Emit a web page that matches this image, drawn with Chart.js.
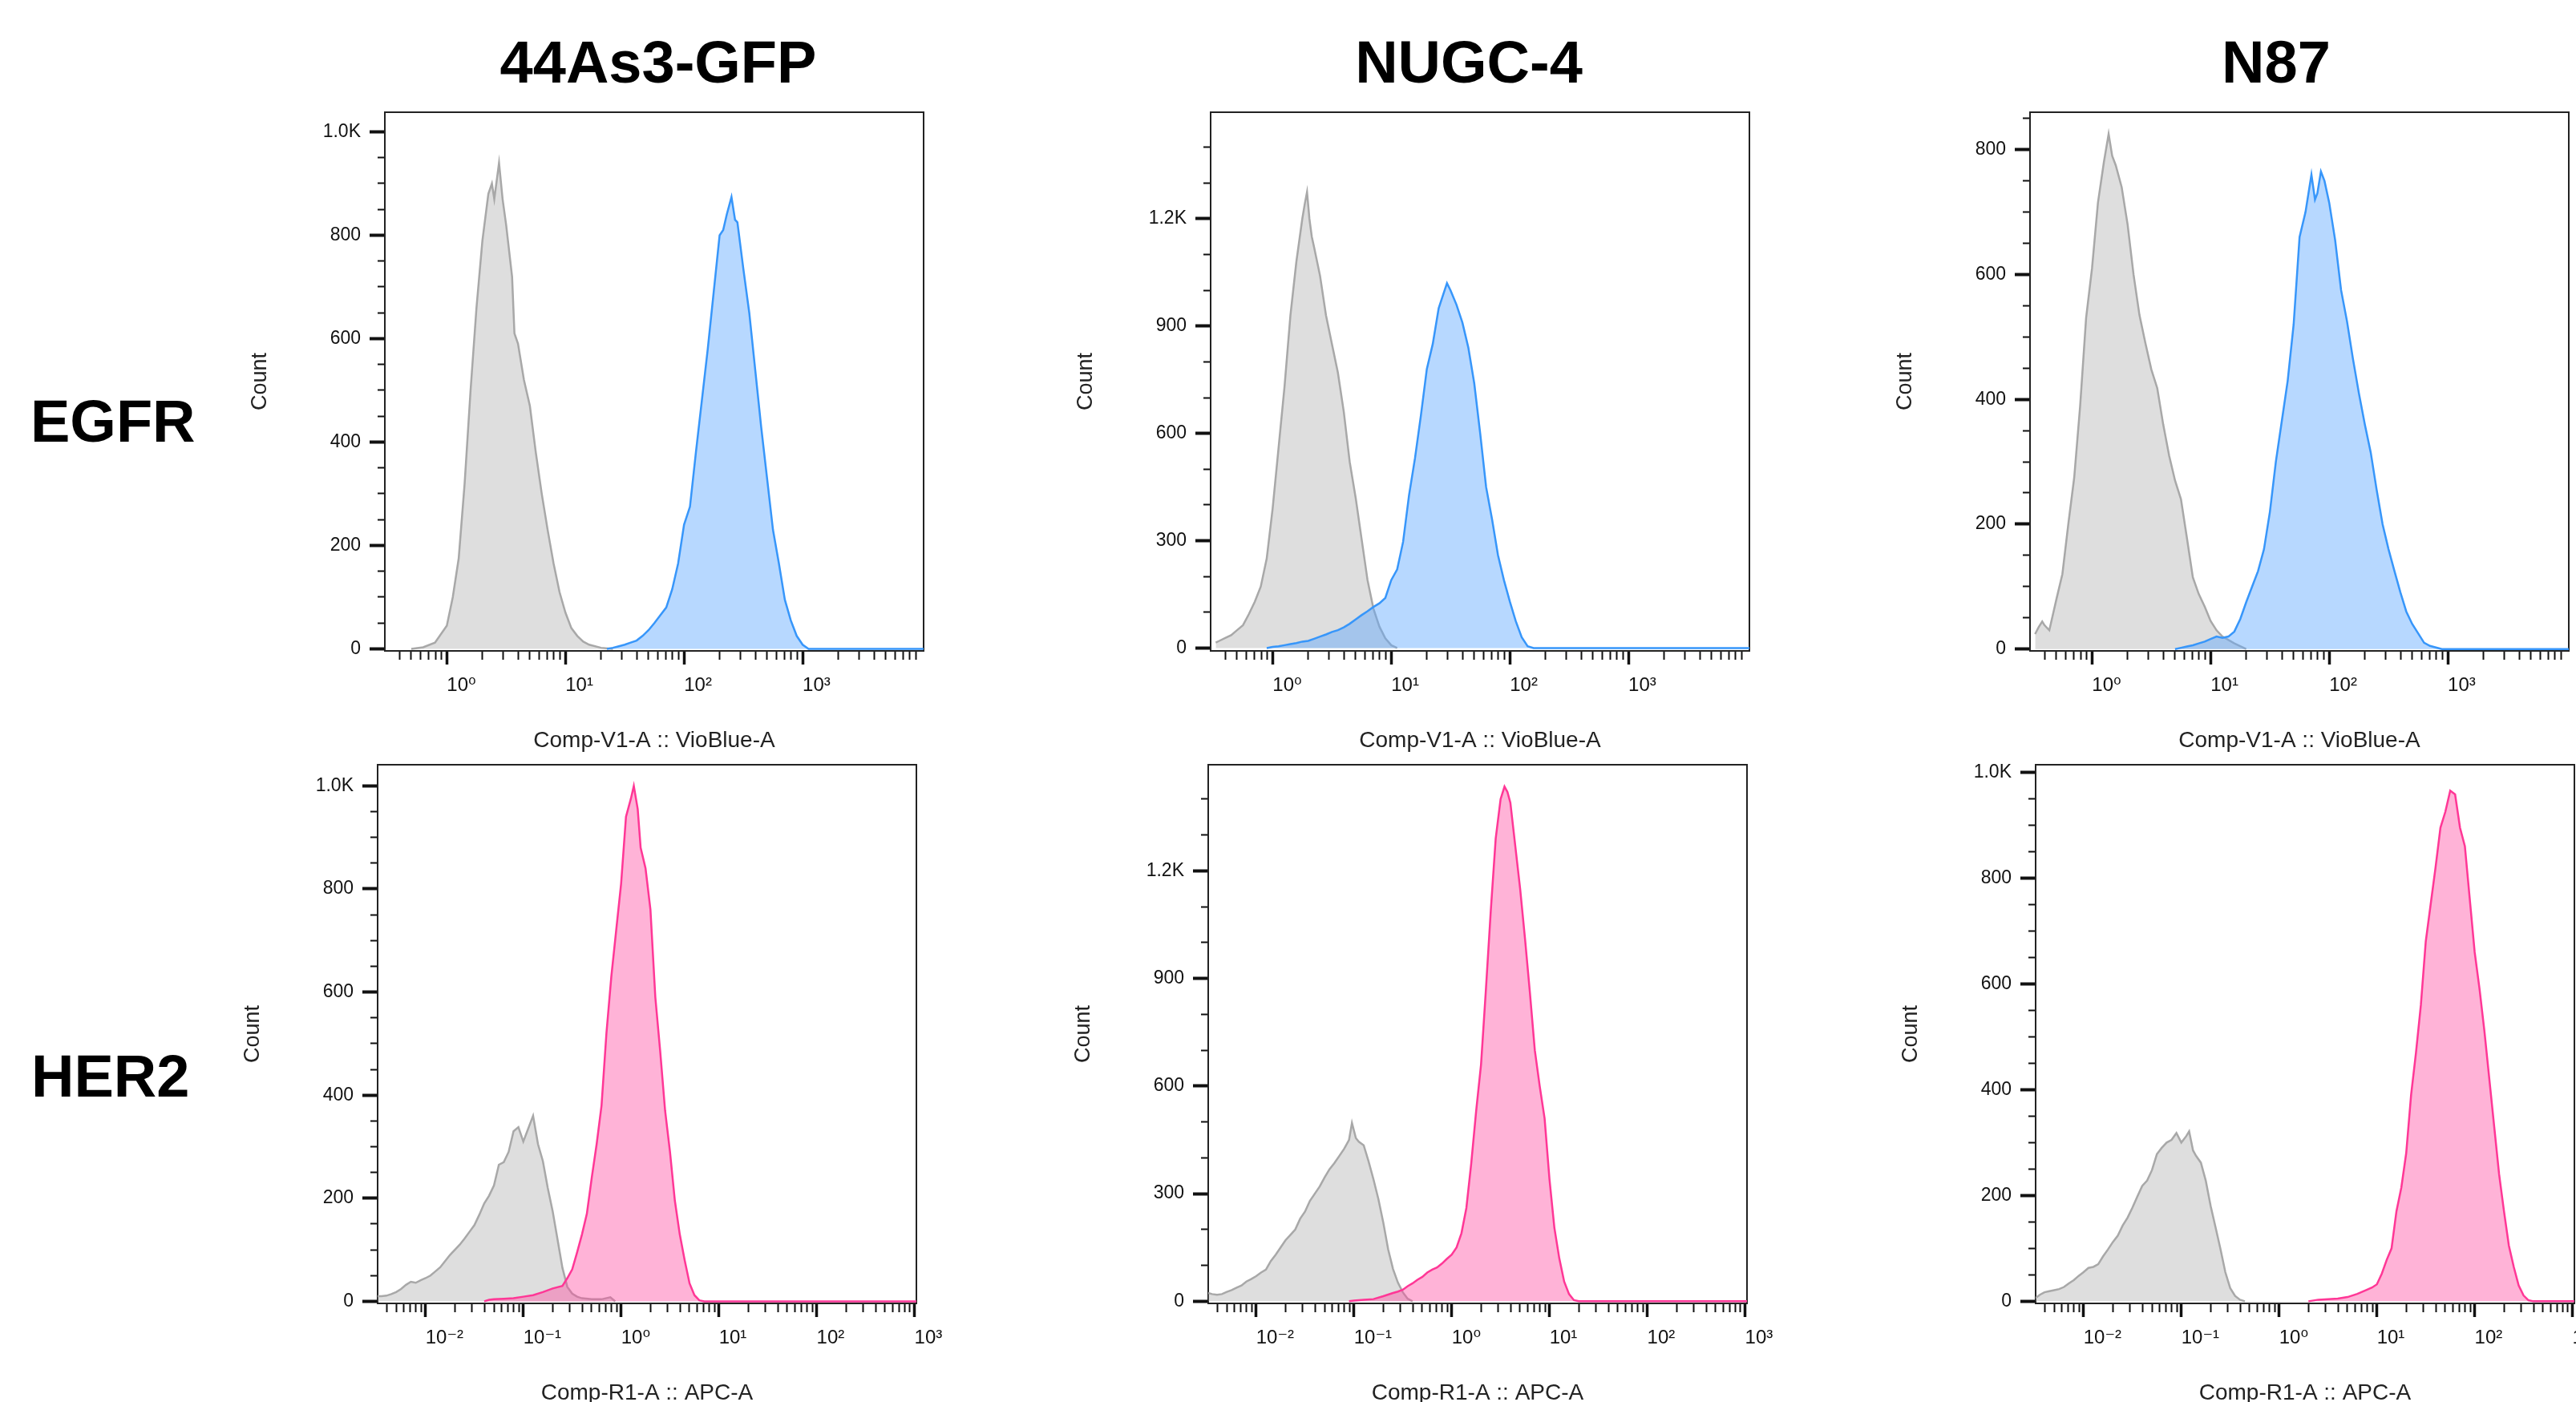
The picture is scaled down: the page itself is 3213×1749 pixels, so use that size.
<!DOCTYPE html>
<html><head><meta charset="utf-8">
<script src="https://cdn.jsdelivr.net/npm/chart.js@4/dist/chart.umd.min.js"></script>
<style>
html,body{margin:0;padding:0;background:#fff;width:3213px;height:1749px;overflow:hidden;position:relative;font-family:"Liberation Sans",Arial,sans-serif;}
.t{position:absolute;font-weight:bold;font-size:74px;line-height:74px;color:#000;white-space:nowrap;}
canvas{position:absolute;}
</style></head><body>
<div class="t" style="left:821px;top:41px;transform:translateX(-50%)">44As3-GFP</div>
<div class="t" style="left:1832px;top:41px;transform:translateX(-50%)">NUGC-4</div>
<div class="t" style="left:2839px;top:41px;transform:translateX(-50%)">N87</div>
<div class="t" style="left:38px;top:489px;">EGFR</div>
<div class="t" style="left:39px;top:1306px;">HER2</div>
<script>
// ---------- DATA (x in log10 units of fluorescence, y = count) ----------
const columns = ['44As3-GFP', 'NUGC-4', 'N87'];
const rows = ['EGFR', 'HER2'];
const xTitleEGFR = 'Comp-V1-A :: VioBlue-A';
const xTitleHER2 = 'Comp-R1-A :: APC-A';
const yTitle = 'Count';

// EGFR / 44As3-GFP
const egfr44CtrlLog = [-0.30,-0.20,-0.10,0.00,0.05,0.10,0.15,0.20,0.25,0.30,0.35,0.38,0.40,0.42,0.44,0.47,0.50,0.55,0.57,0.60,0.65,0.70,0.75,0.80,0.85,0.90,0.95,1.00,1.05,1.10,1.15,1.20,1.30,1.40];
const egfr44CtrlCount = [0,3,12,45,100,175,320,500,660,790,880,900,870,905,940,870,820,720,610,590,520,470,380,300,230,165,110,70,40,25,14,8,2,0];
const egfr44StainLog = [1.35,1.40,1.45,1.50,1.55,1.60,1.65,1.70,1.75,1.80,1.85,1.90,1.95,2.00,2.05,2.10,2.15,2.20,2.25,2.30,2.33,2.36,2.40,2.43,2.45,2.50,2.55,2.60,2.65,2.70,2.75,2.80,2.85,2.90,2.95,3.00,3.05,4.02];
const egfr44StainCount = [0,2,5,8,12,16,25,36,50,65,80,115,165,240,275,380,480,580,690,800,810,840,874,830,825,735,650,540,430,330,230,165,95,55,25,8,0,0];

// EGFR / NUGC-4
const egfrNugcCtrlLog = [-0.48,-0.45,-0.40,-0.35,-0.30,-0.25,-0.20,-0.15,-0.10,-0.05,0.00,0.05,0.10,0.15,0.20,0.25,0.27,0.29,0.31,0.33,0.35,0.40,0.45,0.50,0.55,0.60,0.65,0.70,0.75,0.80,0.85,0.90,0.95,1.00,1.05];
const egfrNugcCtrlCount = [15,20,28,36,50,64,95,130,172,250,390,560,730,930,1080,1200,1240,1275,1200,1150,1120,1040,930,850,770,660,520,420,305,190,110,60,27,8,0];
const egfrNugcStainLog = [-0.05,0.00,0.05,0.10,0.15,0.20,0.25,0.30,0.35,0.40,0.45,0.50,0.55,0.60,0.65,0.70,0.75,0.80,0.85,0.90,0.95,1.00,1.05,1.10,1.15,1.20,1.25,1.30,1.35,1.40,1.45,1.47,1.50,1.55,1.60,1.65,1.70,1.75,1.80,1.85,1.90,1.95,2.00,2.05,2.10,2.15,2.20,4.02];
const egfrNugcStainCount = [0,3,5,8,11,14,18,20,26,32,38,45,50,58,68,80,92,103,115,125,140,190,220,297,427,530,650,780,850,950,1000,1020,1000,960,910,840,740,600,450,360,260,190,130,75,30,5,0,0];

// EGFR / N87
const egfrN87CtrlLog = [-0.48,-0.45,-0.42,-0.40,-0.36,-0.33,-0.30,-0.25,-0.20,-0.15,-0.10,-0.05,0.00,0.05,0.10,0.14,0.17,0.20,0.25,0.30,0.35,0.40,0.45,0.50,0.55,0.60,0.65,0.70,0.75,0.80,0.85,0.90,0.95,1.00,1.05,1.10,1.20,1.30];
const egfrN87CtrlCount = [24,35,44,38,30,55,80,120,200,275,390,530,610,715,780,825,790,775,740,680,600,535,490,448,418,360,310,270,240,178,115,88,68,45,30,20,9,0];
const egfrN87StainLog = [0.70,0.75,0.80,0.85,0.90,0.95,1.00,1.05,1.10,1.15,1.20,1.25,1.30,1.35,1.40,1.45,1.50,1.55,1.60,1.65,1.70,1.75,1.80,1.85,1.88,1.90,1.93,1.96,2.00,2.05,2.10,2.15,2.20,2.25,2.30,2.35,2.40,2.45,2.50,2.55,2.60,2.65,2.70,2.75,2.80,2.85,2.95,4.03];
const egfrN87StainCount = [0,2,4,6,9,12,16,20,18,20,28,48,75,100,125,160,220,300,365,430,520,660,700,760,720,730,765,750,715,655,575,525,465,410,360,315,255,200,160,125,91,60,40,25,10,5,0,0];

// HER2 / 44As3-GFP
const her244CtrlLog = [-2.49,-2.45,-2.40,-2.35,-2.30,-2.25,-2.20,-2.15,-2.10,-2.05,-2.00,-1.95,-1.90,-1.85,-1.80,-1.75,-1.70,-1.65,-1.60,-1.55,-1.50,-1.45,-1.40,-1.35,-1.30,-1.25,-1.20,-1.15,-1.10,-1.05,-1.00,-0.95,-0.90,-0.85,-0.80,-0.75,-0.70,-0.65,-0.60,-0.55,-0.50,-0.45,-0.40,-0.30,-0.20,-0.11,-0.06];
const her244CtrlCount = [10,10,11,14,18,24,32,38,36,41,45,50,58,66,78,90,100,110,122,135,148,168,190,205,225,265,270,290,330,338,310,335,360,305,272,220,175,120,65,28,15,9,6,4,4,8,0];
const her244StainLog = [-1.40,-1.35,-1.30,-1.20,-1.10,-1.00,-0.90,-0.80,-0.70,-0.60,-0.55,-0.50,-0.45,-0.40,-0.35,-0.30,-0.25,-0.20,-0.15,-0.10,-0.05,0.00,0.05,0.10,0.13,0.17,0.20,0.25,0.30,0.35,0.40,0.45,0.50,0.55,0.60,0.65,0.70,0.75,0.80,0.85,3.03];
const her244StainCount = [0,3,4,5,6,9,12,18,25,30,45,62,95,130,170,240,305,380,520,630,720,810,940,975,1000,955,880,840,760,590,485,370,290,195,130,80,35,12,2,0,0];

// HER2 / NUGC-4
const her2NugcCtrlLog = [-2.49,-2.45,-2.40,-2.35,-2.30,-2.25,-2.20,-2.15,-2.10,-2.05,-2.00,-1.95,-1.90,-1.85,-1.80,-1.75,-1.70,-1.65,-1.60,-1.55,-1.50,-1.45,-1.40,-1.35,-1.30,-1.25,-1.20,-1.15,-1.10,-1.05,-1.02,-0.98,-0.95,-0.90,-0.85,-0.80,-0.75,-0.70,-0.65,-0.60,-0.55,-0.50,-0.45,-0.40];
const her2NugcCtrlCount = [23,20,18,20,26,31,38,44,55,62,70,80,88,112,130,150,170,185,200,230,250,280,300,320,345,368,385,405,425,450,497,455,445,435,390,340,285,220,145,90,52,25,7,0];
const her2NugcStainLog = [-1.05,-1.00,-0.90,-0.80,-0.70,-0.60,-0.55,-0.50,-0.45,-0.40,-0.35,-0.30,-0.25,-0.20,-0.15,-0.10,-0.05,0.00,0.05,0.10,0.15,0.20,0.25,0.30,0.35,0.40,0.45,0.50,0.54,0.57,0.60,0.65,0.70,0.75,0.80,0.85,0.90,0.95,1.00,1.05,1.10,1.15,1.20,1.25,1.30,3.03];
const her2NugcStainCount = [0,2,4,6,14,23,27,32,42,50,60,68,80,88,94,105,118,130,150,190,260,385,530,660,870,1090,1290,1400,1435,1420,1390,1270,1150,1010,860,700,600,510,340,205,120,55,20,3,0,0];

// HER2 / N87
const her2N87CtrlLog = [-2.49,-2.45,-2.40,-2.35,-2.30,-2.25,-2.20,-2.15,-2.10,-2.05,-2.00,-1.95,-1.90,-1.85,-1.80,-1.75,-1.70,-1.65,-1.60,-1.55,-1.50,-1.45,-1.40,-1.35,-1.30,-1.25,-1.20,-1.15,-1.10,-1.05,-1.00,-0.95,-0.92,-0.88,-0.85,-0.80,-0.75,-0.70,-0.65,-0.60,-0.55,-0.50,-0.45,-0.40,-0.35];
const her2N87CtrlCount = [6,12,17,19,21,23,27,34,40,48,55,63,65,70,85,98,112,124,143,158,177,198,218,228,248,278,290,300,305,318,300,312,321,285,275,262,228,180,140,99,55,25,10,3,0];
const her2N87StainLog = [0.30,0.40,0.50,0.60,0.70,0.80,0.90,0.95,1.00,1.05,1.10,1.15,1.20,1.25,1.30,1.35,1.40,1.45,1.50,1.55,1.60,1.65,1.70,1.75,1.80,1.85,1.90,1.95,2.00,2.05,2.10,2.15,2.20,2.25,2.30,2.35,2.40,2.45,2.50,2.55,2.60,3.03];
const her2N87StainCount = [0,3,4,5,8,14,22,26,32,52,78,100,170,215,280,390,470,560,680,750,820,895,925,965,958,895,860,760,660,590,510,420,330,240,170,105,65,30,11,2,0,0];

// Axis ranges and tick steps per panel (log10 x range, y range, minor/labelled tick steps)
const xRangeEGFR = [-0.48, 4.02];
const xRangeHER2 = [-2.49, 3.02];
const yRanges = [[-4,1038],[-8,1498],[-3,860],[-4,1041],[-6,1496],[-4,1014]];
const yTickSteps = [[50,200],[100,300],[50,200],[50,200],[100,300],[50,200]];

// ---------- RENDERING ----------
const FONT = '"Liberation Sans", Arial, "DejaVu Sans", sans-serif';
const SUP = {'-':'\u207B','0':'\u2070','1':'\u00B9','2':'\u00B2','3':'\u00B3','4':'\u2074'};
const decadeLabel = v => '10' + String(Math.round(Math.log10(v))).split('').map(c => SUP[c]).join('');
const isDecade = v => { const l = Math.log10(v); return Math.abs(l - Math.round(l)) < 1e-6; };

const BLUE = {line:'rgb(55,150,250)', fill:'rgba(95,168,255,0.45)'};
const PINK = {line:'rgb(255,55,150)', fill:'rgba(255,75,160,0.42)'};

const panels = [
  {left:480, top:140, ctrl:[egfr44CtrlLog,egfr44CtrlCount], stain:[egfr44StainLog,egfr44StainCount], col:BLUE, xr:xRangeEGFR, xTickEnd:3.99, xTitle:xTitleEGFR},
  {left:1510, top:140, ctrl:[egfrNugcCtrlLog,egfrNugcCtrlCount], stain:[egfrNugcStainLog,egfrNugcStainCount], col:BLUE, xr:xRangeEGFR, xTickEnd:3.99, xTitle:xTitleEGFR},
  {left:2532, top:140, ctrl:[egfrN87CtrlLog,egfrN87CtrlCount], stain:[egfrN87StainLog,egfrN87StainCount], col:BLUE, xr:xRangeEGFR, xTickEnd:3.99, xTitle:xTitleEGFR},
  {left:471, top:954, ctrl:[her244CtrlLog,her244CtrlCount], stain:[her244StainLog,her244StainCount], col:PINK, xr:xRangeHER2, xTickEnd:3.01, xTitle:xTitleHER2},
  {left:1507, top:954, ctrl:[her2NugcCtrlLog,her2NugcCtrlCount], stain:[her2NugcStainLog,her2NugcStainCount], col:PINK, xr:xRangeHER2, xTickEnd:3.01, xTitle:xTitleHER2},
  {left:2539, top:954, ctrl:[her2N87CtrlLog,her2N87CtrlCount], stain:[her2N87StainLog,her2N87StainCount], col:PINK, xr:xRangeHER2, xTickEnd:3.01, xTitle:xTitleHER2}
];

const S = 672, padL = 172, padT = 14, padR = 60, padB = 129;
const toPts = (lx, ly) => lx.map((v, i) => ({x: Math.pow(10, v), y: ly[i]}));
const noPad = s => { s.paddingLeft = 0; s.paddingRight = 0; s.paddingTop = 0; s.paddingBottom = 0; };
const hiddenAxis = (pos, horiz) => ({
  type:'linear', position:pos, display:true,
  ticks:{display:false}, grid:{display:false, drawTicks:false},
  border:{display:true, color:'#222', width:2},
  afterFit: s => { if (horiz) s.height = 0; else s.width = 0; noPad(s); }
});

panels.forEach((p, k) => {
  const cv = document.createElement('canvas');
  cv.width = padL + S + padR; cv.height = padT + S + padB;
  cv.style.left = (p.left - padL) + 'px'; cv.style.top = (p.top - padT) + 'px';
  document.body.appendChild(cv);
  const [yMin, yMax] = yRanges[k];
  const [yMinor, yMajor] = yTickSteps[k];
  new Chart(cv.getContext('2d'), {
    type:'line',
    data:{datasets:[
      {data:toPts(p.stain[0], p.stain[1]), borderColor:p.col.line, backgroundColor:p.col.fill, fill:'origin', borderWidth:2.5, pointRadius:0, tension:0, order:1},
      {data:toPts(p.ctrl[0], p.ctrl[1]), borderColor:'rgb(168,168,168)', backgroundColor:'rgba(160,160,160,0.35)', fill:'origin', borderWidth:2.5, pointRadius:0, tension:0, order:2}
    ]},
    options:{
      responsive:false, animation:false, devicePixelRatio:1,
      layout:{padding:{left:0, top:padT, right:padR, bottom:0}},
      plugins:{legend:{display:false}, tooltip:{enabled:false}},
      scales:{
        x:{
          type:'logarithmic', position:'bottom',
          min:Math.pow(10, p.xr[0]), max:Math.pow(10, p.xr[1]),
          afterFit: s => { s.height = padB; noPad(s); },
          afterBuildTicks: s => {
            const t = [];
            for (let e = Math.floor(p.xr[0]); e <= Math.ceil(p.xr[1]); e++) {
              for (let m = 1; m <= 9; m++) {
                const v = m * Math.pow(10, e), l = Math.log10(v);
                if (l >= p.xr[0] && l <= p.xTickEnd) t.push({value:v, major:m === 1});
              }
            }
            s.ticks = t;
          },
          ticks:{autoSkip:false, maxRotation:0, minRotation:0, align:'start', padding:12, color:'#111',
                 font:{family:FONT, size:24}, callback: v => isDecade(v) ? decadeLabel(v) : ''},
          grid:{drawOnChartArea:false, drawTicks:true, tickLength:17, tickColor:'#111',
                tickWidth: c => (c.tick && c.tick.major) ? 3.5 : 2,
                tickBorderDash: c => (c.tick && c.tick.major) ? [] : [10, 100]},
          border:{display:true, color:'#222', width:2},
          title:{display:true, text:p.xTitle, color:'#222', font:{family:FONT, size:28}, padding:0}
        },
        y:{
          type:'linear', position:'left', min:yMin, max:yMax,
          afterFit: s => { s.width = padL; noPad(s); },
          afterBuildTicks: s => {
            const t = [];
            for (let v = Math.ceil(yMin / yMinor) * yMinor; v <= yMax; v += yMinor) t.push({value:v, major: v % yMajor === 0});
            s.ticks = t;
          },
          ticks:{autoSkip:false, padding:11, color:'#111', font:{family:FONT, size:23},
                 callback: v => v % yMajor === 0 ? (v >= 1000 ? (v / 1000).toFixed(1) + 'K' : String(v)) : ''},
          grid:{drawOnChartArea:false, drawTicks:true, tickLength:19, tickColor:'#111',
                tickWidth: c => (c.tick && c.tick.major) ? 4 : 2,
                tickBorderDash: c => (c.tick && c.tick.major) ? [] : [0, 10, 9, 100]},
          border:{display:true, color:'#222', width:2},
          title:{display:true, text:yTitle, color:'#222', font:{family:FONT, size:27}, padding:0}
        },
        xTop: hiddenAxis('top', true),
        yRight: hiddenAxis('right', false)
      }
    }
  });
});
</script>
</body></html>
